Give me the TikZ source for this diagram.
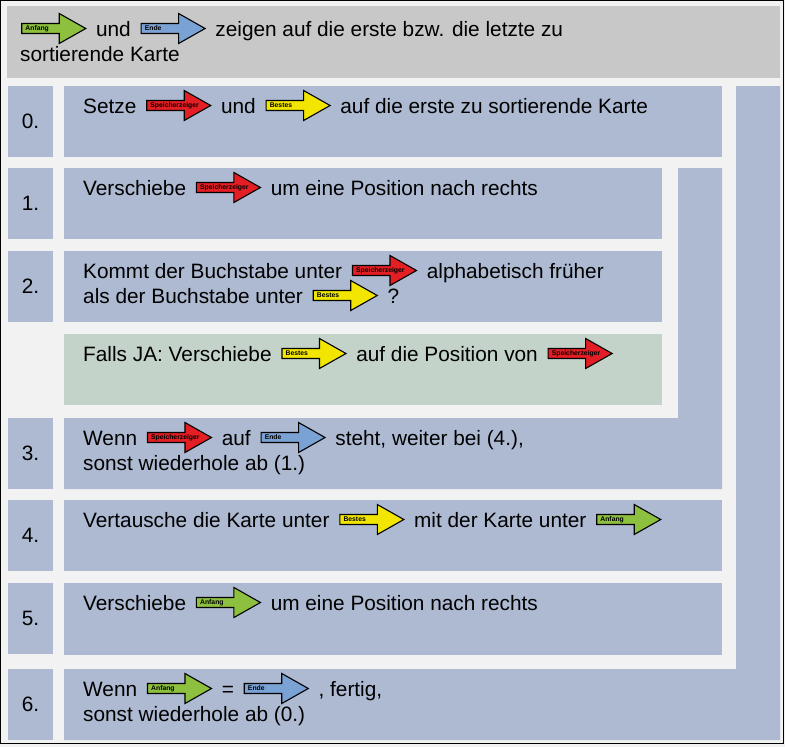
\documentclass[tikz,border=0pt]{standalone}
\usepackage{fontspec}
\setmainfont{Liberation Sans}
\definecolor{hgrund}{HTML}{F2F2F2}
\definecolor{kopf}{HTML}{C8C8C8}
\definecolor{zeilblau}{HTML}{ADBAD1}
\definecolor{zeilgruen}{HTML}{C4D3CA}
\definecolor{zrot}{HTML}{E31E24}
\definecolor{zgelb}{HTML}{F2E600}
\definecolor{zgruen}{HTML}{8DC03F}
\definecolor{zblau}{HTML}{7BA2D4}

% Zeiger-Pfeil mitten im Text
\newcommand{\zeiger}[2]{\hspace{4pt}\smash{\tikz[x=1pt,y=1pt,baseline=-7.5pt]{%
    \draw[line width=1.1pt,fill=#1] (0,-5) -- (37.5,-5) -- (37.5,-15) -- (64,0) -- (37.5,15) -- (37.5,5) -- (0,5) -- cycle;
    \node[anchor=west,inner sep=0pt,font=\fontsize{6.8}{7}\selectfont\bfseries] at (3.5,0) {#2};}}\hspace{4pt}}

\begin{document}
\begin{tikzpicture}[x=1pt, y=-1pt,
    zeile/.style={fill=zeilblau},
    nummer/.style={fill=zeilblau, minimum width=45pt, minimum height=71pt, inner sep=0pt, font=\fontsize{20.8}{25}\selectfont},
    schritt/.style={anchor=base west, align=left, inner sep=0pt, font=\fontsize{20.8}{25}\selectfont}]
    \useasboundingbox (0,0) rectangle (785,747);
    \fill[hgrund] (0,0) rectangle (785,747);

    % Kopfzeile (zweizeilige Texte: Basislinie der letzten Zeile)
    \fill[kopf] (7,6) rectangle (779.5,77.5);
    \node[schritt] (kopf) at (20,61) {\hspace{-3pt}\zeiger{zgruen}{Anfang} und \zeiger{zblau}{Ende} zeigen auf die erste bzw. die letzte zu\\sortierende Karte};

    % Felder der Schritte
    \fill[zeile] (64,86) rectangle (722,157);
    \fill[zeile] (64,168) rectangle (662,239);
    \fill[zeile] (64,251) rectangle (662,322);
    \fill[zeilgruen] (64,334) rectangle (662,405);
    \fill[zeile] (678,168) -- (722,168) -- (722,489) -- (64,489) -- (64,418) -- (678,418) -- cycle;
    \fill[zeile] (64,500) rectangle (722,571);
    \fill[zeile] (64,583) rectangle (722,655);
    \fill[zeile] (736,86) -- (780,86) -- (780,740) -- (64,740) -- (64,669) -- (736,669) -- cycle;

    % Nummern
    \foreach \n/\y in {0/86, 1/168, 2/251, 3/418, 4/500, 5/583, 6/669}
        \node[nummer] (n\n) at (30.5,\y+35.5) {\n.};

    % Texte
    \node[schritt] (s0) at (83,113) {Setze \zeiger{zrot}{Speicherzeiger} und \zeiger{zgelb}{Bestes} auf die erste zu sortierende Karte};
    \node[schritt] (s1) at (83,195) {Verschiebe \zeiger{zrot}{Speicherzeiger} um eine Position nach rechts};
    \node[schritt] (s2) at (83,303) {Kommt der Buchstabe unter \zeiger{zrot}{Speicherzeiger} alphabetisch früher\\als der Buchstabe unter \zeiger{zgelb}{Bestes} ?};
    \node[schritt] (ja) at (83,361) {Falls JA: Verschiebe \zeiger{zgelb}{Bestes} auf die Position von \zeiger{zrot}{Speicherzeiger}};
    \node[schritt] (s3) at (83,470) {Wenn \zeiger{zrot}{Speicherzeiger} auf \zeiger{zblau}{Ende} steht, weiter bei (4.),\\sonst wiederhole ab (1.)};
    \node[schritt] (s4) at (83,527) {Vertausche die Karte unter \zeiger{zgelb}{Bestes} mit der Karte unter \zeiger{zgruen}{Anfang}};
    \node[schritt] (s5) at (83,610) {Verschiebe \zeiger{zgruen}{Anfang} um eine Position nach rechts};
    \node[schritt] (s6) at (83,721) {Wenn \zeiger{zgruen}{Anfang} = \zeiger{zblau}{Ende} , fertig,\\sonst wiederhole ab (0.)};

    % Rahmen
    \draw[line width=1pt] (0.5,0.5) rectangle (783.5,743.5);
\end{tikzpicture}
\end{document}
